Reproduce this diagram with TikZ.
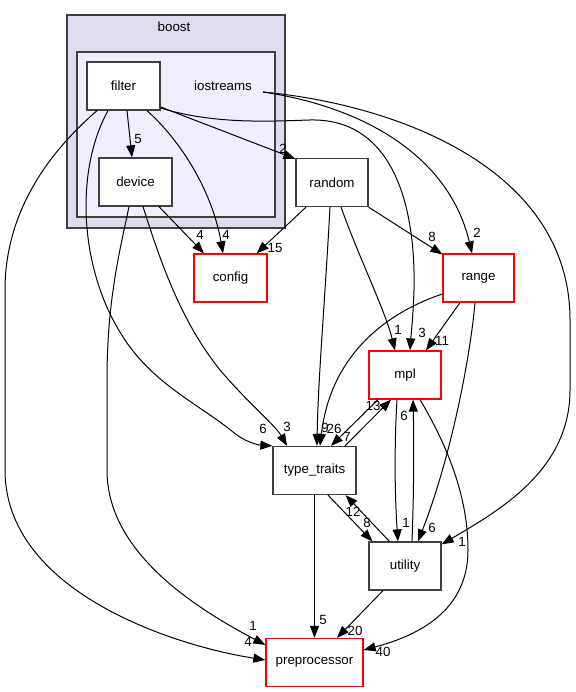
\documentclass[tikz,border=0pt]{standalone}
\usepackage{fontspec}
\setmainfont{Liberation Sans}
\usetikzlibrary{arrows.meta,calc}
\definecolor{outerfill}{HTML}{DDDDEE}
\definecolor{innerfill}{HTML}{EEEEFF}
\definecolor{boxline}{HTML}{404040}
\begin{document}
\begin{tikzpicture}[x=1pt,y=-1pt,
  every node/.style={font=\fontsize{13.3}{15}\selectfont},
  dirbox/.style={draw=boxline,line width=1.3pt,fill=white,minimum width=#1,minimum height=48pt,inner sep=0pt},
  redbox/.style={draw=red,line width=1.3pt,fill=white,minimum width=#1,minimum height=48pt,inner sep=0pt},
  cluster/.style={draw=boxline,line width=1.3pt},
  edge/.style={draw=black,line width=1pt,-{Triangle[length=12pt,width=9pt]}},
  lbl/.style={inner sep=0pt}
]
\useasboundingbox (0,0) rectangle (575,692);
% clusters
\filldraw[cluster,fill=outerfill] (67,15) rectangle (285,228);
\filldraw[cluster,fill=innerfill] (77,52) rectangle (275,217);
\node (boostlbl) at (174,27) {boost};
\node (ioslbl) at (223,86) {iostreams};
\coordinate (ios) at (263,92);
% nodes
\node[dirbox=73pt] (filter) at (123.5,86) {filter};
\node[dirbox=73pt] (device) at (135.5,182) {device};
\node[dirbox=72pt] (random) at (332,182.5) {random};
\node[redbox=73pt] (config) at (230.5,278) {config};
\node[redbox=71pt] (range) at (478.5,278) {range};
\node[redbox=72pt] (mpl) at (405,375) {mpl};
\node[dirbox=83pt] (tt) at (314.5,470.5) {type\_traits};
\node[dirbox=72pt] (utility) at (405,566) {utility};
\node[redbox=97pt] (pre) at (314.5,662.5) {preprocessor};
% edges
\draw[edge] ($(filter.south)+(3.5,0)$) -- ($(device.north)+(-3.5,0)$);
\draw[edge] ($(filter.east)+(0,21)$) -- ($(random.north west)+(0,1)$);
\draw[edge] ($(filter.east)+(0,22)$) .. controls (215,125) and (275,121) .. (310,120)
  .. controls (390,118) and (416,200) .. (414,290)
  .. controls (413,320) and (411,335) .. ($(mpl.north)+(5,0)$);
\draw[edge] ($(filter.south)+(23.5,0)$) .. controls (180,140) and (212,190) .. ($(config.north)+(-7.5,0)$);
\draw[edge] ($(device.south)+(23.5,0)$) -- ($(config.north)+(-26.5,0)$);
\draw[edge] ($(filter.south)+(-15.5,0)$) .. controls (75,170) and (78,270) .. (125,340)
  .. controls (155,385) and (200,405) .. (233,432)
  .. controls (245,442) and (258,445) .. (tt.north west);
\draw[edge] ($(device.south)+(7.5,0)$) .. controls (160,260) and (180,320) .. (220,370)
  .. controls (250,405) and (275,425) .. ($(tt.north)+(-27.5,0)$);
\draw[edge] ($(device.south)+(-6.5,0)$) .. controls (120,250) and (107,300) .. (107,380) -- (107,470)
  .. controls (107,540) and (170,595) .. ($(pre.north west)+(0,7)$);
\draw[edge] ($(filter.south)+(-26.5,0)$) .. controls (40,160) and (5,220) .. (5,290) -- (5,470)
  .. controls (5,590) and (170,645) .. ($(pre.west)+(0,-2.5)$);
\draw[edge] (ios) .. controls (370,108) and (450,160) .. ($(range.north)+(-6.5,0)$);
\draw[edge] (ios) .. controls (400,105) and (570,170) .. (570,320) -- (570,390)
  .. controls (570,470) and (500,510) .. ($(utility.north east)+(0,3)$);
\draw[edge] ($(random.south)+(-26,0)$) -- ($(config.north east)+(-11,0)$);
\draw[edge] (random.south east) -- ($(range.north west)+(0,1)$);
\draw[edge] ($(random.south)+(9,0)$) .. controls (360,260) and (385,310) .. ($(mpl.north)+(-10,0)$);
\draw[edge] ($(range.south)+(-18.5,0)$) -- ($(mpl.north)+(21,0)$);
\draw[edge] ($(random.south)+(-2,0)$) .. controls (325,300) and (318,380) .. ($(tt.north)+(2.5,0)$);
\draw[edge] ($(range.west)+(0,16)$) .. controls (380,315) and (330,360) .. ($(tt.north)+(5.5,0)$);
\draw[edge] ($(tt.north)+(30.5,0)$) -- ($(mpl.south)+(-14,0)$);
\draw[edge] ($(mpl.south)+(-27,0)$) -- ($(tt.north)+(16.5,0)$);
\draw[edge] ($(mpl.south)+(-8,0)$) .. controls (394,450) and (395,500) .. ($(utility.north)+(-7,0)$);
\draw[edge] ($(utility.north)+(7,0)$) .. controls (414,490) and (414,440) .. ($(mpl.south)+(8,0)$);
\draw[edge] ($(range.south)+(-3.5,0)$) .. controls (470,360) and (450,460) .. ($(utility.north)+(13,0)$);
\draw[edge] ($(tt.south)+(13.5,0)$) -- ($(utility.north west)+(4,0)$);
\draw[edge] ($(utility.north west)+(21,0)$) -- ($(tt.south east)+(-11,0)$);
\draw[edge] (tt.south) -- (pre.north);
\draw[edge] ($(utility.south)+(-22,0)$) -- ($(pre.north)+(22.5,0)$);
\draw[edge] ($(mpl.south)+(15,0)$) .. controls (450,450) and (468,500) .. (468,550)
  .. controls (468,610) and (420,635) .. ($(pre.east)+(0,-12.5)$);
% labels
\node[lbl] (l1) at (138,139) {5};
\node[lbl] (l2) at (283,149) {2};
\node[lbl] (l3) at (422,333) {3};
\node[lbl] (l4) at (398,330) {1};
\node[lbl] (l5) at (442,341) {11};
\node[lbl] (l6) at (200,235) {4};
\node[lbl] (l7) at (226,235) {4};
\node[lbl] (l8) at (275,248) {15};
\node[lbl] (l9) at (432,237) {8};
\node[lbl] (l10) at (477,233) {2};
\node[lbl] (l11) at (263,429) {6};
\node[lbl] (l12) at (287,427) {3};
\node[lbl] (l13) at (253,626) {1};
\node[lbl] (l14) at (248,642) {4};
\node[lbl] (l15) at (325,428) {9};
\node[lbl] (l16) at (334,429) {26};
\node[lbl] (l17) at (347,437) {7};
\node[lbl] (l18) at (373,406) {13};
\node[lbl] (l19) at (404,416) {6};
\node[lbl] (l20) at (406,523) {1};
\node[lbl] (l21) at (432,528) {6};
\node[lbl] (l22) at (462,542) {1};
\node[lbl] (l23) at (353,512) {12};
\node[lbl] (l24) at (367,523) {8};
\node[lbl] (l25) at (323,620) {5};
\node[lbl] (l26) at (355,631) {20};
\node[lbl] (l27) at (383,652) {40};
\end{tikzpicture}
\end{document}
